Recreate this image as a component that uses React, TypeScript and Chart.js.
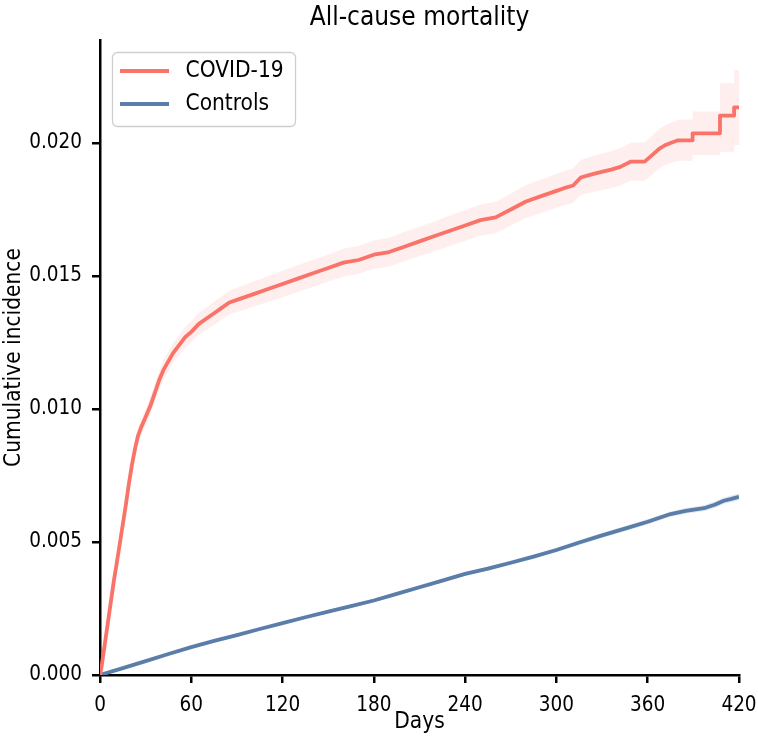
import React, { useEffect, useRef } from "react";
import { Chart, registerables } from "chart.js";

Chart.register(...registerables);

const FONT = "'DejaVu Sans Condensed', 'DejaVu Sans', sans-serif";

const titleText = "All-cause mortality";
const xAxisLabel = "Days";
const yAxisLabel = "Cumulative incidence";
const seriesNames = ["COVID-19", "Controls"];
const xTicksStep = 60;
const xMax = 420;
const yTickStep = 0.005;
const yMax = 0.02387;

const covidDays = [0, 1, 3, 5, 7, 9, 11, 14, 17, 19, 21, 23, 25, 27, 30, 33, 36, 39, 42, 45, 48, 52, 56, 60, 65, 70, 75, 80, 85, 90, 100, 110, 120, 130, 140, 150, 160, 170, 180, 190, 200, 210, 220, 230, 240, 250, 260, 270, 280, 290, 300, 305, 311, 316, 322, 329, 336, 342, 349, 358, 364, 368, 371, 375, 380, 389.5, 389.5, 407.5, 407.5, 416.8, 416.8, 420];
const covidInc = [0, 0.0003, 0.0011, 0.0019, 0.0027, 0.0035, 0.0042, 0.0053, 0.0064, 0.0072, 0.0079, 0.0085, 0.009, 0.0093, 0.0097, 0.0101, 0.0106, 0.0111, 0.0115, 0.0118, 0.0121, 0.0124, 0.0127, 0.0129, 0.0132, 0.0134, 0.0136, 0.0138, 0.014, 0.0141, 0.0143, 0.0145, 0.0147, 0.0149, 0.0151, 0.0153, 0.0155, 0.0156, 0.0158, 0.0159, 0.0161, 0.0163, 0.0165, 0.0167, 0.0169, 0.0171, 0.0172, 0.0175, 0.0178, 0.018, 0.0182, 0.0183, 0.0184, 0.0187, 0.0188, 0.0189, 0.019, 0.0191, 0.0193, 0.0193, 0.0196, 0.0198, 0.0199, 0.02, 0.0201, 0.0201, 0.02036, 0.02036, 0.02103, 0.02103, 0.02134, 0.02134];
// confidence band: distance above and below the estimate
const covidCiPlus = [0, 0.00003, 0.00007, 0.0001, 0.00012, 0.00015, 0.00017, 0.0002, 0.00023, 0.00025, 0.00027, 0.00028, 0.00029, 0.0003, 0.00031, 0.00033, 0.00034, 0.00035, 0.00036, 0.00037, 0.00037, 0.00038, 0.00039, 0.0004, 0.00041, 0.00042, 0.00043, 0.00044, 0.00044, 0.00045, 0.00047, 0.00048, 0.0005, 0.0005, 0.00051, 0.00051, 0.00052, 0.00053, 0.00053, 0.00054, 0.00055, 0.00055, 0.00056, 0.00057, 0.00058, 0.00058, 0.00059, 0.0006, 0.00062, 0.00063, 0.00064, 0.00064, 0.00065, 0.00066, 0.00067, 0.00068, 0.00069, 0.0007, 0.00071, 0.00072, 0.00073, 0.00074, 0.00075, 0.00076, 0.00077, 0.00078, 0.00082, 0.00082, 0.00121, 0.00121, 0.0014, 0.0014];
const covidCiMinus = [0, 0.00003, 0.00007, 0.0001, 0.00012, 0.00015, 0.00017, 0.0002, 0.00023, 0.00025, 0.00027, 0.00028, 0.00029, 0.0003, 0.00031, 0.00033, 0.00034, 0.00035, 0.00036, 0.00037, 0.00037, 0.00038, 0.00039, 0.0004, 0.00041, 0.00042, 0.00043, 0.00044, 0.00044, 0.00045, 0.00047, 0.00048, 0.0005, 0.0005, 0.00051, 0.00051, 0.00052, 0.00053, 0.00053, 0.00054, 0.00055, 0.00055, 0.00056, 0.00057, 0.00058, 0.00058, 0.00059, 0.0006, 0.00062, 0.00063, 0.00064, 0.00064, 0.00065, 0.00066, 0.00067, 0.00068, 0.00069, 0.0007, 0.00071, 0.00072, 0.00073, 0.00074, 0.00075, 0.00076, 0.00077, 0.00078, 0.00081, 0.00081, 0.00136, 0.00136, 0.00142, 0.00142];

const controlDays = [0, 15, 30, 45, 60, 75, 90, 105, 120, 135, 150, 165, 180, 195, 210, 225, 240, 255, 270, 285, 300, 315, 330, 345, 360, 375, 385, 397, 404, 410, 415, 420];
const controlInc = [0, 0.00026, 0.00052, 0.00079, 0.00105, 0.00128, 0.0015, 0.00173, 0.00195, 0.00217, 0.00238, 0.00259, 0.0028, 0.00305, 0.0033, 0.00355, 0.0038, 0.004, 0.00422, 0.00445, 0.0047, 0.00498, 0.00525, 0.0055, 0.00576, 0.00605, 0.00617, 0.00627, 0.0064, 0.00655, 0.00662, 0.0067];
const controlCiHalf = [0, 0.00002, 0.00003, 0.00004, 0.00004, 0.00005, 0.00005, 0.00005, 0.00005, 0.00006, 0.00006, 0.00006, 0.00006, 0.00007, 0.00007, 0.00007, 0.00007, 0.00008, 0.00008, 0.00008, 0.00008, 0.00009, 0.00009, 0.0001, 0.0001, 0.0001, 0.00011, 0.00011, 0.00012, 0.00012, 0.00013, 0.00013];

const RED = "#FA7369";
const BLUE = "#5A7DAA";
const RED_BAND = "rgba(250,115,105,0.12)";
const BLUE_BAND = "rgba(90,125,170,0.16)";

const pts = (xs: number[], ys: number[]) => xs.map((x, i) => ({ x, y: ys[i] }));
const shifted = (xs: number[], ys: number[], d: number[], sign: number) =>
  xs.map((x, i) => ({ x, y: ys[i] + sign * d[i] }));

const overlayPlugin = {
  id: "overlay",
  afterDraw(chart: any) {
    const { ctx, chartArea } = chart;
    ctx.save();
    ctx.fillStyle = "#000";
    ctx.font = `26px ${FONT}`;
    ctx.textAlign = "center";
    ctx.textBaseline = "middle";
    ctx.fillText(titleText, (chartArea.left + chartArea.right) / 2, 18);
    const bx = chartArea.left + 12.5;
    const by = chartArea.top + 12.5;
    const bw = 183;
    const bh = 74;
    ctx.beginPath();
    ctx.roundRect(bx, by, bw, bh, 5);
    ctx.fillStyle = "rgba(255,255,255,0.85)";
    ctx.fill();
    ctx.strokeStyle = "#cfcfcf";
    ctx.lineWidth = 1.3;
    ctx.stroke();
    const colors = [RED, BLUE];
    const rows = [by + 18.5, by + 51.5];
    ctx.font = `22.5px ${FONT}`;
    ctx.textAlign = "left";
    ctx.textBaseline = "middle";
    seriesNames.forEach((name, i) => {
      ctx.beginPath();
      ctx.moveTo(bx + 7.5, rows[i]);
      ctx.lineTo(bx + 56.5, rows[i]);
      ctx.strokeStyle = colors[i];
      ctx.lineWidth = 3.8;
      ctx.stroke();
      ctx.fillStyle = "#000";
      ctx.fillText(name, bx + 73, rows[i]);
    });
    ctx.restore();
  },
};

export default function App() {
  const ref = useRef<HTMLCanvasElement | null>(null);
  useEffect(() => {
    document.body.style.margin = "0";
    if (!ref.current) return;
    Chart.defaults.font.family = FONT;
    const lineCommon = { pointRadius: 0, borderWidth: 3.8, tension: 0, fill: false, borderJoinStyle: "round" as const };
    const bandCommon = { pointRadius: 0, borderWidth: 0, tension: 0 };
    const chart = new Chart(ref.current, {
      type: "line",
      data: {
        datasets: [
          { label: seriesNames[0], data: pts(covidDays, covidInc), borderColor: RED, ...lineCommon },
          { label: seriesNames[1], data: pts(controlDays, controlInc), borderColor: BLUE, ...lineCommon },
          { label: "covid-lower", data: shifted(covidDays, covidInc, covidCiMinus, -1), borderColor: "transparent", fill: false, ...bandCommon },
          { label: "covid-upper", data: shifted(covidDays, covidInc, covidCiPlus, 1), borderColor: "transparent", backgroundColor: RED_BAND, fill: 2, ...bandCommon },
          { label: "ctrl-lower", data: shifted(controlDays, controlInc, controlCiHalf, -1), borderColor: "transparent", fill: false, ...bandCommon },
          { label: "ctrl-upper", data: shifted(controlDays, controlInc, controlCiHalf, 1), borderColor: "transparent", backgroundColor: BLUE_BAND, fill: 4, ...bandCommon },
        ],
      },
      options: {
        animation: false,
        responsive: false,
        layout: { padding: { left: 0, right: 19, top: 40, bottom: 0 } },
        plugins: {
          legend: { display: false },
          tooltip: { enabled: false },
          title: { display: false },
        },
        scales: {
          x: {
            type: "linear",
            min: 0,
            max: xMax,
            afterFit: (s: any) => { s.height = 63; s.paddingLeft = 0; s.paddingRight = 0; },
            ticks: { stepSize: xTicksStep, color: "#000", font: { size: 20.5, family: FONT }, padding: 10, maxRotation: 0, includeBounds: false },
            grid: { drawOnChartArea: false, drawTicks: true, tickLength: 8, tickWidth: 2.5, tickColor: "#000", color: "#000", lineWidth: 2.5 },
            border: { display: true, color: "#000", width: 2.5 },
            title: { display: true, text: xAxisLabel, color: "#000", font: { size: 22.5, family: FONT }, padding: { top: 0, bottom: 2.5 } },
          },
          y: {
            type: "linear",
            min: 0,
            max: yMax,
            afterFit: (s: any) => { s.width = 100; s.paddingTop = 0; s.paddingBottom = 0; },
            ticks: {
              stepSize: yTickStep,
              includeBounds: false,
              color: "#000",
              font: { size: 20.5, family: FONT },
              padding: 10,
              callback: (v: any) => Number(v).toFixed(3),
            },
            grid: { drawOnChartArea: false, drawTicks: true, tickLength: 8, tickWidth: 2.5, tickColor: "#000", color: "#000", lineWidth: 2.5 },
            border: { display: true, color: "#000", width: 2.5 },
            title: { display: true, text: yAxisLabel, color: "#000", font: { size: 22.5, family: FONT }, padding: { top: 0.5, bottom: 0 } },
          },
        },
      },
      plugins: [overlayPlugin],
    } as any);
    return () => chart.destroy();
  }, []);
  return (
    <div style={{ position: "absolute", left: 0, top: 0, width: 758, height: 738, background: "#fff" }}>
      <canvas ref={ref} width={758} height={738} style={{ width: 758, height: 738, display: "block" }} />
    </div>
  );
}
